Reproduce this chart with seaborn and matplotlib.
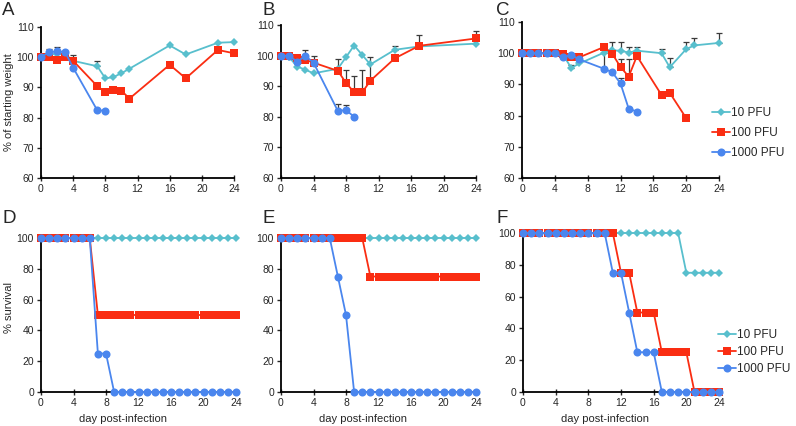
import numpy as np
import matplotlib
matplotlib.use("Agg")
import matplotlib.pyplot as plt
import seaborn as sns

sns.set_theme(style="white")
plt.rcParams['font.family'] = ['Liberation Sans', 'DejaVu Sans']

# ---- weight data (panels A-C) ----
A_days_10 = [0, 1, 2, 3, 4, 7, 8, 9, 10, 11, 16, 18, 22, 24]
A_w_10 = [100, 101, 101, 101, 98.8, 97.0, 93.0, 93.4, 94.7, 96.2, 103.9, 100.9, 104.8, 105.0]
A_e_10 = [0, 0, 0, 0, 2.0, 1.9, 0, 0, 0, 0, 0, 0, 0, 0]
A_days_100 = [0, 1, 2, 3, 4, 7, 8, 9, 10, 11, 16, 18, 22, 24]
A_w_100 = [100, 100, 99.1, 100.1, 98.8, 90.4, 88.4, 89.2, 88.9, 86.3, 97.5, 93.0, 102.4, 101.3]
A_e_100 = [0] * 14
A_days_1000 = [0, 1, 2, 3, 4, 7, 8]
A_w_1000 = [100, 101.7, 101.9, 101.7, 96.5, 82.4, 82.3]
A_e_1000 = [0, 1.1, 1.6, 0, 0, 0, 0]

B_days_10 = [0, 1, 2, 3, 4, 7, 8, 9, 10, 11, 14, 17, 24]
B_w_10 = [100, 99.5, 96.4, 95.4, 94.2, 95.7, 99.5, 103.3, 100.2, 97.1, 101.9, 103.0, 103.9]
B_e_10 = [0, 0, 0, 0, 0, 0, 0, 0, 0, 0, 1.3, 0, 0]
B_days_100 = [0, 1, 2, 3, 4, 7, 8, 9, 10, 11, 14, 17, 24]
B_w_100 = [100, 100, 99.3, 98.6, 97.7, 95.0, 91.1, 88.0, 88.0, 91.8, 99.1, 103.2, 105.6]
B_e_100 = [0, 0, 0.9, 0, 0, 3.9, 4.3, 5.4, 7.4, 7.6, 0, 3.5, 2.6]
B_days_1000 = [0, 1, 2, 3, 4, 7, 8, 9]
B_w_1000 = [100, 99.9, 98.0, 99.9, 97.7, 81.9, 82.2, 80.0]
B_e_1000 = [0, 0, 0, 2.0, 2.2, 2.3, 1.5, 0]

C_days_10 = [0, 1, 2, 3, 4, 5, 6, 7, 10, 11, 12, 13, 14, 17, 18, 20, 21, 24]
C_w_10 = [100, 100, 100, 100, 100, 99.5, 95.3, 96.7, 100.2, 100.9, 100.8, 100.2, 100.8, 100.0, 95.5, 101.3, 102.5, 103.3]
C_e_10 = [0, 0, 0, 0, 0, 0, 0.8, 0, 0, 2.6, 2.7, 1.8, 1.2, 1.3, 2.9, 2.2, 2.5, 3.1]
C_days_100 = [0, 1, 2, 3, 4, 5, 6, 7, 10, 11, 12, 13, 14, 17, 18, 20]
C_w_100 = [100, 100, 100, 100, 100, 99.6, 98.9, 98.7, 102.0, 99.8, 95.6, 92.5, 99.1, 86.6, 87.3, 79.2]
C_e_100 = [0, 0, 0, 0, 0, 0, 0, 0, 0, 0, 2.4, 5.5, 0, 0, 0, 0]
C_days_1000 = [0, 1, 2, 3, 4, 5, 6, 7, 10, 11, 12, 13, 14]
C_w_1000 = [100, 100, 100, 100, 100, 98.7, 99.4, 98.0, 95.0, 93.9, 90.3, 82.2, 81.3]
C_e_1000 = [0, 0, 0, 0, 1.1, 0, 0, 1.8, 5.0, 0, 1.8, 0, 0]

# ---- survival data (panels D-F) ----
surv_days = [0, 1, 2, 3, 4, 5, 6, 7, 8, 9, 10, 11, 12, 13, 14, 15, 16, 17, 18, 19, 20, 21, 22, 23, 24]
D_s_10 = [100, 100, 100, 100, 100, 100, 100, 100, 100, 100, 100, 100, 100, 100, 100, 100, 100, 100, 100, 100, 100, 100, 100, 100, 100]
D_s_100 = [100, 100, 100, 100, 100, 100, 100, 50, 50, 50, 50, 50, 50, 50, 50, 50, 50, 50, 50, 50, 50, 50, 50, 50, 50]
D_s_1000 = [100, 100, 100, 100, 100, 100, 100, 25, 25, 0, 0, 0, 0, 0, 0, 0, 0, 0, 0, 0, 0, 0, 0, 0, 0]
E_s_10 = [100, 100, 100, 100, 100, 100, 100, 100, 100, 100, 100, 100, 100, 100, 100, 100, 100, 100, 100, 100, 100, 100, 100, 100, 100]
E_s_100 = [100, 100, 100, 100, 100, 100, 100, 100, 100, 100, 100, 75, 75, 75, 75, 75, 75, 75, 75, 75, 75, 75, 75, 75, 75]
E_s_1000 = [100, 100, 100, 100, 100, 100, 100, 75, 50, 0, 0, 0, 0, 0, 0, 0, 0, 0, 0, 0, 0, 0, 0, 0, 0]
F_s_10 = [100, 100, 100, 100, 100, 100, 100, 100, 100, 100, 100, 100, 100, 100, 100, 100, 100, 100, 100, 100, 75, 75, 75, 75, 75]
F_s_100 = [100, 100, 100, 100, 100, 100, 100, 100, 100, 100, 100, 100, 75, 75, 50, 50, 50, 25, 25, 25, 25, 0, 0, 0, 0]
F_s_1000 = [100, 100, 100, 100, 100, 100, 100, 100, 100, 100, 100, 75, 75, 50, 25, 25, 25, 0, 0, 0, 0, 0, 0, 0, 0]

doses = ['10 PFU', '100 PFU', '1000 PFU']
colors = ['#58bfcd', '#fa2d12', '#4a86ee']
markers = ['D', 's', 'o']
msizes = [4.0, 5.3, 5.8]
x_ticks = [0, 4, 8, 12, 16, 20, 24]

W, H = 796, 426
fig = plt.figure(figsize=(W / 100, H / 100), dpi=100)


def make_ax(left, right, top, bottom):
    return fig.add_axes([left / W, 1 - bottom / H, (right - left) / W, (bottom - top) / H])


def style_ax(ax, ylim, yticks):
    ax.set_xlim(0, 24)
    ax.set_ylim(*ylim)
    ax.set_xticks(x_ticks)
    ax.set_yticks(yticks)
    for s in ['top', 'right']:
        ax.spines[s].set_visible(False)
    for s in ['left', 'bottom']:
        ax.spines[s].set_color('black')
        ax.spines[s].set_linewidth(1.3)
    ax.tick_params(axis='x', direction='inout', length=4, width=1, labelsize=7.5, pad=2, bottom=True)
    ax.tick_params(axis='y', direction='out', length=3, width=1, labelsize=7.5, pad=2, left=True)
    ax.set_xlabel('')
    ax.set_ylabel('')
    ax.grid(False)


def draw_series(ax, series):
    handles = []
    for i, (d, v, e) in enumerate(series):
        if e is not None:
            idx = [k for k, val in enumerate(e) if val > 0]
            if idx:
                ax.errorbar([d[k] for k in idx], [v[k] for k in idx],
                            yerr=[[0] * len(idx), [e[k] for k in idx]],
                            fmt='none', ecolor='#3a3a3a', elinewidth=0.9,
                            capsize=2.5, capthick=0.9, zorder=1, clip_on=False)
        sns.lineplot(x=d, y=v, ax=ax, color=colors[i], marker=markers[i],
                     markersize=msizes[i], markeredgewidth=0, linewidth=1.3,
                     clip_on=False, zorder=2 + i)
        handles.append(ax.lines[-1])
    return handles


# top row
axA = make_ax(41, 234, 27, 178)
draw_series(axA, [(A_days_10, A_w_10, A_e_10), (A_days_100, A_w_100, A_e_100),
                  (A_days_1000, A_w_1000, A_e_1000)])
axB = make_ax(281, 476, 25, 178)
draw_series(axB, [(B_days_10, B_w_10, B_e_10), (B_days_100, B_w_100, B_e_100),
                  (B_days_1000, B_w_1000, B_e_1000)])
axC = make_ax(522, 719, 22, 178)
hC = draw_series(axC, [(C_days_10, C_w_10, C_e_10), (C_days_100, C_w_100, C_e_100),
                       (C_days_1000, C_w_1000, C_e_1000)])
for ax in [axA, axB, axC]:
    style_ax(ax, (60, 110), [60, 70, 80, 90, 100, 110])

# bottom row
axD = make_ax(41, 236, 238, 392)
draw_series(axD, [(surv_days, D_s_10, None), (surv_days, D_s_100, None), (surv_days, D_s_1000, None)])
axE = make_ax(281, 476, 238, 392)
draw_series(axE, [(surv_days, E_s_10, None), (surv_days, E_s_100, None), (surv_days, E_s_1000, None)])
axF = make_ax(523, 719, 233, 392)
hF = draw_series(axF, [(surv_days, F_s_10, None), (surv_days, F_s_100, None), (surv_days, F_s_1000, None)])
for ax in [axD, axE, axF]:
    style_ax(ax, (0, 100), [0, 20, 40, 60, 80, 100])
    ax.set_xlabel('day post-infection', fontsize=8)
    ax.xaxis.set_label_coords(0.42, -0.14)

axA.set_ylabel('% of starting weight', fontsize=8)
axA.yaxis.set_label_coords(-0.14, 0.5)
axD.set_ylabel('% survival', fontsize=8)
axD.yaxis.set_label_coords(-0.14, 0.55)

# panel letters
for (x, y, t) in [(2, 2, 'A'), (262, 2, 'B'), (496, 2, 'C'),
                  (2, 210, 'D'), (262, 210, 'E'), (496, 210, 'F')]:
    fig.text(x / W, 1 - y / H, t, fontsize=13.5, va='top', ha='left')

# legends
fig.legend(hC, doses, loc='center left', bbox_to_anchor=(712 / W, 1 - 133 / H),
           frameon=False, fontsize=8.5, handlelength=1.5, handletextpad=0.15,
           labelspacing=0.7, borderpad=0, borderaxespad=0)
fig.legend(hF, doses, loc='center left', bbox_to_anchor=(718 / W, 1 - 352 / H),
           frameon=False, fontsize=8.5, handlelength=1.5, handletextpad=0.15,
           labelspacing=0.45, borderpad=0, borderaxespad=0)

fig.savefig('out.png', dpi=100, facecolor='white')
